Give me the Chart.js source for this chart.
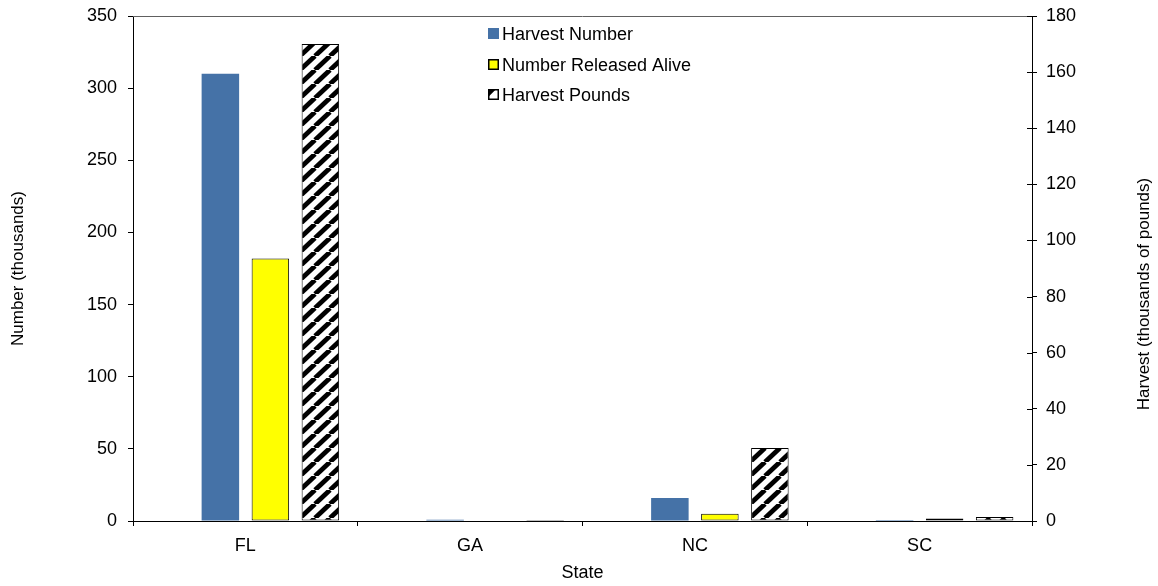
<!DOCTYPE html>
<html><head><meta charset="utf-8">
<script src="https://cdn.jsdelivr.net/npm/chart.js@4/dist/chart.umd.min.js"></script>
<style>html,body{margin:0;padding:0;background:#fff;}#wrap{width:1158px;height:586px;position:relative}</style>
</head><body><div id="wrap"><canvas id="c" width="1158" height="586"></canvas></div>
<script>
// ---- data ----
const categories = ['FL', 'GA', 'NC', 'SC'];
const harvestNumber = [310, 0.8, 16, 0.7];      // thousands (left axis)
const releasedAlive = [182, 0, 5, 1.8];         // thousands (left axis)
const harvestPounds = [170, 0.4, 26, 1.4];      // thousands of pounds (right axis)
const spacer = [null, null, null, null];        // empty slot used by the original layout
const seriesLabels = ['Harvest Number', 'Number Released Alive', 'Harvest Pounds'];
const leftAxis = {min: 0, max: 350, step: 50, title: 'Number (thousands)'};
const rightAxis = {min: 0, max: 180, step: 20, title: 'Harvest (thousands of pounds)'};
const xTitle = 'State';

const FONT = 'Liberation Sans, Arial, sans-serif';

function makeHatch() {
  const w = 15, h = 14;
  const c = document.createElement('canvas');
  c.width = w; c.height = h;
  const g = c.getContext('2d');
  g.fillStyle = '#fff'; g.fillRect(0, 0, w, h);
  g.strokeStyle = '#000'; g.lineWidth = 4.8;
  for (const off of [-w, 0, w]) {
    g.beginPath(); g.moveTo(off, h); g.lineTo(off + w, 0); g.stroke();
  }
  const ctx = document.getElementById('c').getContext('2d');
  return ctx.createPattern(c, 'repeat');
}
const hatch = makeHatch();
const BLUE = '#4572A7';
const YELLOW = '#FFFF00';

const extras = {
  id: 'extras',
  afterDraw(chart) {
    const {ctx, chartArea: ca, scales} = chart;
    ctx.save();
    // top frame line
    ctx.strokeStyle = '#606060'; ctx.lineWidth = 1;
    ctx.beginPath(); ctx.moveTo(ca.left, Math.round(ca.top) + 0.5); ctx.lineTo(ca.right, Math.round(ca.top) + 0.5); ctx.stroke();
    // inner half of right-axis cross ticks
    const y1 = scales.y1;
    ctx.strokeStyle = '#000';
    y1.ticks.forEach(t => {
      const py = Math.round(y1.getPixelForValue(t.value)) + 0.5;
      ctx.beginPath(); ctx.moveTo(y1.left - 5, py); ctx.lineTo(y1.left, py); ctx.stroke();
    });
    // right axis title (reads bottom to top)
    ctx.fillStyle = '#000';
    ctx.font = '17px ' + FONT;
    ctx.textAlign = 'center'; ctx.textBaseline = 'middle';
    ctx.translate(1144, 294);
    ctx.rotate(-Math.PI / 2);
    ctx.fillText(rightAxis.title, 0, 0);
    ctx.restore();

    // legend
    ctx.save();
    ctx.font = '18px ' + FONT;
    ctx.textAlign = 'left'; ctx.textBaseline = 'middle';
    const ds = chart.data.datasets.filter(d => d.label);
    const rowY = [34, 65, 95];
    ds.forEach((d, i) => {
      const y = rowY[i];
      const bx = 488, by = y - 6, bs = 11;
      if (i === 0) {
        ctx.fillStyle = d.backgroundColor; ctx.fillRect(bx, by, bs, bs);
      } else if (i === 1) {
        ctx.fillStyle = d.backgroundColor; ctx.fillRect(bx, by, bs, bs);
        ctx.strokeStyle = '#000'; ctx.lineWidth = 1.5; ctx.strokeRect(bx + 0.75, by + 0.75, bs - 1.5, bs - 1.5);
      } else {
        ctx.fillStyle = '#fff'; ctx.fillRect(bx, by, bs, bs);
        ctx.fillStyle = '#000';
        ctx.beginPath(); ctx.moveTo(bx, by); ctx.lineTo(bx + bs * 0.75, by); ctx.lineTo(bx, by + bs * 0.75); ctx.closePath(); ctx.fill();
        ctx.strokeStyle = '#000'; ctx.lineWidth = 1.5; ctx.strokeRect(bx + 0.75, by + 0.75, bs - 1.5, bs - 1.5);
      }
      ctx.fillStyle = '#000';
      ctx.fillText(d.label, 502, y + 1);
    });
    ctx.restore();
  }
};

const tickFont = {family: FONT, size: 18};

new Chart(document.getElementById('c'), {
  type: 'bar',
  data: {
    labels: categories,
    datasets: [
      {label: '', data: spacer, yAxisID: 'y', backgroundColor: 'rgba(0,0,0,0)'},
      {label: seriesLabels[0], data: harvestNumber, yAxisID: 'y', backgroundColor: BLUE, borderWidth: 0},
      {label: seriesLabels[1], data: releasedAlive, yAxisID: 'y', backgroundColor: YELLOW, borderColor: '#000', borderWidth: 1, borderSkipped: false},
      {label: seriesLabels[2], data: harvestPounds, yAxisID: 'y1', backgroundColor: hatch, borderColor: '#000', borderWidth: 1, borderSkipped: false}
    ]
  },
  options: {
    responsive: false,
    animation: false,
    devicePixelRatio: 1,
    layout: {padding: {top: 16, left: 0, right: 0, bottom: 0}},
    datasets: {bar: {categoryPercentage: 0.89, barPercentage: 0.75}},
    plugins: {legend: {display: false}, tooltip: {enabled: false}},
    scales: {
      x: {
        grid: {offset: true, drawOnChartArea: false, drawTicks: true, tickLength: 5, color: '#000'},
        border: {color: '#000', width: 1},
        ticks: {font: tickFont, color: '#000', padding: 9},
        title: {display: true, text: xTitle, font: tickFont, color: '#000', padding: {top: 0, bottom: 2}},
        afterFit: s => { s.height = 65; s.paddingLeft = 0; s.paddingRight = 0; }
      },
      y: {
        position: 'left',
        min: leftAxis.min, max: leftAxis.max,
        ticks: {stepSize: leftAxis.step, font: tickFont, color: '#000', padding: 11},
        grid: {drawOnChartArea: false, drawTicks: true, tickLength: 5, color: '#000'},
        border: {color: '#000', width: 1},
        title: {display: true, text: leftAxis.title, font: {family: FONT, size: 17}, color: '#000', padding: {top: 8, bottom: 0}},
        afterFit: s => { s.width = 133; s.paddingTop = 0; s.paddingBottom = 0; }
      },
      y1: {
        position: 'right',
        min: rightAxis.min, max: rightAxis.max,
        ticks: {stepSize: rightAxis.step, font: tickFont, color: '#000', padding: 9},
        grid: {drawOnChartArea: false, drawTicks: true, tickLength: 5, color: '#000'},
        border: {color: '#000', width: 1},
        title: {display: false},
        afterFit: s => { s.width = 126; s.paddingTop = 0; s.paddingBottom = 0; }
      }
    }
  },
  plugins: [extras]
});
</script>
</body></html>
